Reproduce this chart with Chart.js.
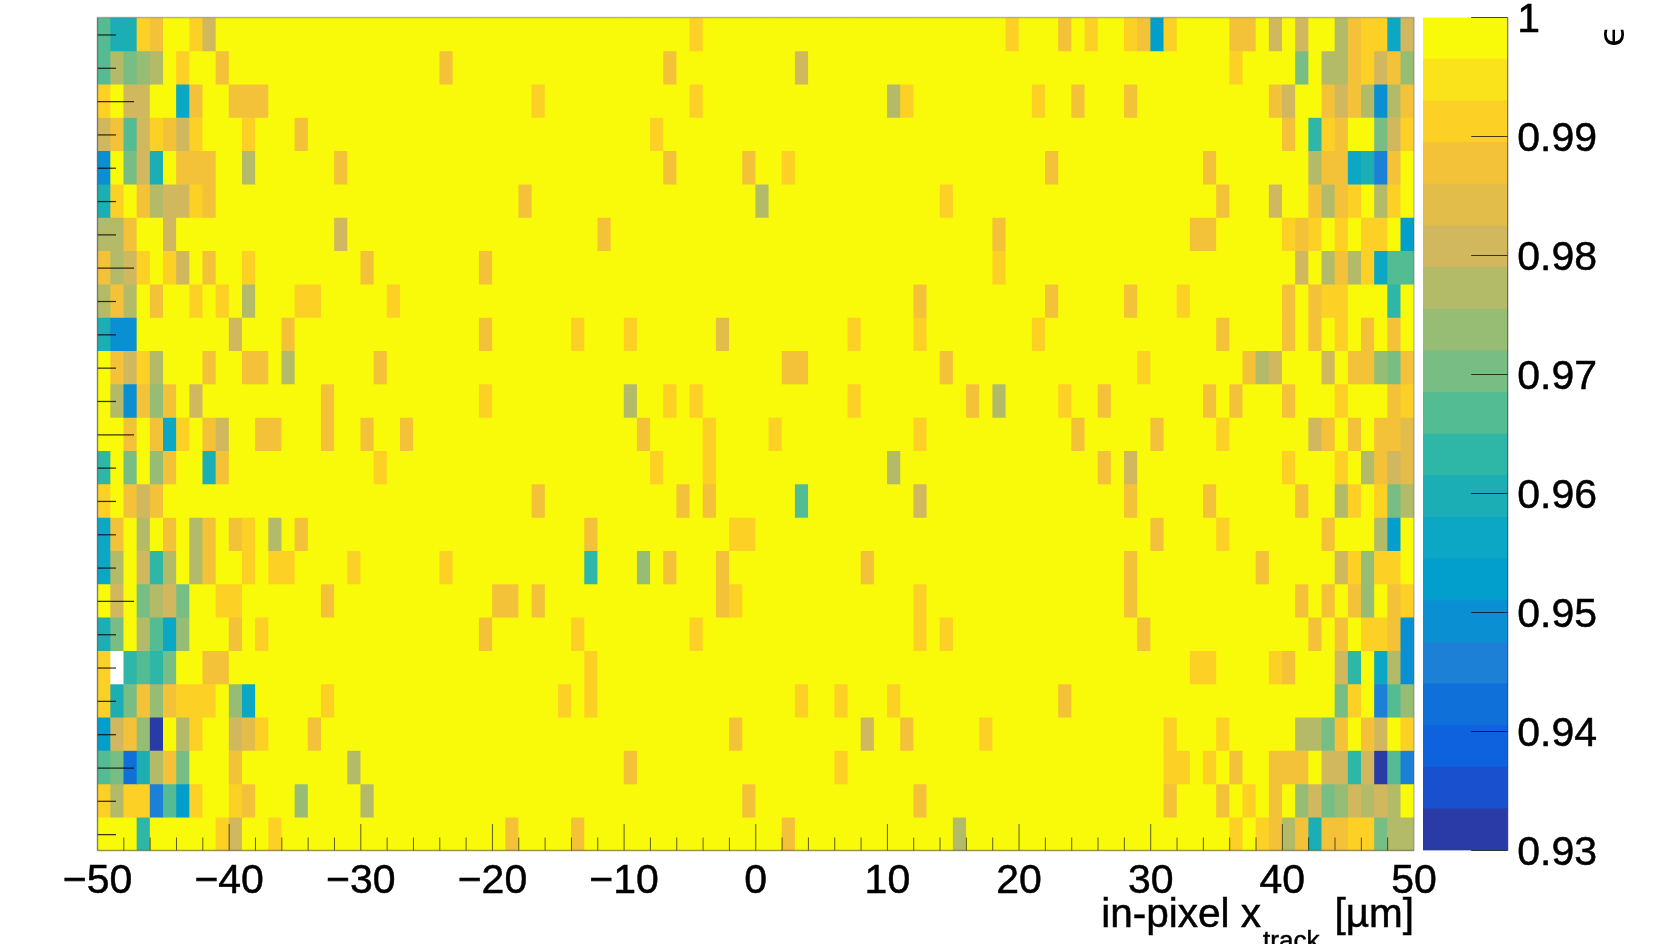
<!DOCTYPE html>
<html>
<head>
<meta charset="utf-8">
<title>in-pixel efficiency map</title>
<script src="https://cdn.jsdelivr.net/npm/chart.js@4"></script>
<style>
html,body{margin:0;padding:0;background:#fff;width:1659px;height:944px;overflow:hidden}
canvas{position:absolute;top:0;filter:blur(.55px)}
#map{left:0}
#bar{left:1416px}
</style>
</head>
<body>
<canvas id="map" width="1659" height="944"></canvas>
<canvas id="bar" width="243" height="944"></canvas>
<script>
// Axis and tick values
const xMajorTicks = [-50,-40,-30,-20,-10,0,10,20,30,40,50];
const xMinorTicks = [-48,-46,-44,-42,-38,-36,-34,-32,-28,-26,-24,-22,-18,-16,-14,-12,-8,-6,-4,-2,2,4,6,8,12,14,16,18,22,24,26,28,32,34,36,38,42,44,46,48];
const yMajorTicks = [2.5,7.5,12.5,17.5,22.5];
const yMinorTicks = [0.5,1.5,3.5,4.5,5.5,6.5,8.5,9.5,10.5,11.5,13.5,14.5,15.5,16.5,18.5,19.5,20.5,21.5,23.5,24.5];
const zTicks = [0.93,0.94,0.95,0.96,0.97,0.98,0.99,1];
const zMin = 0.93, zMax = 1;
const fullEfficiency = 1;
const belowRange = 0.925;
const paletteBottomUp = ['#2A3BA8','#1950CE','#0F62DD','#0F70D9','#1C80D7','#0B8FD3','#029FCD','#0BA7C5','#1CAEB5','#2EB7A6','#54BC92','#78BE84','#97BC74','#B4BB68','#D1B85E','#E2BD4A','#F4C238','#FDD026','#FAE31A','#F9F90A'];

// Efficiency below 100%, per row (top row first): [bin number 0-99, efficiency]
const row00=[[0,.967],[1,.96],[2,.96],[3,.991],[4,.988],[7,.991],[8,.981],[45,.991],[69,.991],[73,.988],[75,.991],[78,.991],[79,.988],[80,.953],[81,.991],[86,.988],[87,.988],[89,.981],[91,.981],[94,.977],[95,.988],[96,.991],[97,.991],[98,.956],[99,.981]];
const row01=[[0,.967],[1,.977],[2,.97],[3,.974],[4,.977],[6,.991],[9,.988],[26,.988],[43,.988],[53,.981],[86,.991],[91,.97],[93,.977],[94,.977],[95,.988],[96,.991],[97,.981],[98,.988],[99,.974]];
const row02=[[0,.991],[2,.981],[3,.981],[6,.956],[7,.988],[10,.988],[11,.988],[12,.988],[33,.991],[45,.991],[60,.977],[61,.991],[71,.991],[74,.988],[78,.988],[89,.988],[90,.981],[93,.988],[94,.981],[95,.988],[96,.977],[97,.949],[98,.977],[99,.988]];
const row03=[[0,.981],[1,.988],[2,.967],[3,.981],[4,.991],[5,.988],[6,.981],[7,.991],[11,.991],[15,.988],[42,.991],[90,.988],[92,.963],[93,.991],[94,.988],[97,.97],[98,.981],[99,.991]];
const row04=[[0,.949],[2,.97],[3,.981],[4,.96],[6,.988],[7,.988],[8,.988],[11,.977],[18,.988],[43,.988],[49,.988],[52,.991],[72,.988],[84,.988],[92,.977],[93,.988],[94,.988],[95,.956],[96,.96],[97,.946],[98,.988]];
const row05=[[0,.96],[1,.991],[3,.988],[4,.977],[5,.981],[6,.981],[7,.991],[8,.988],[32,.988],[50,.977],[64,.991],[85,.988],[89,.981],[92,.988],[93,.977],[94,.988],[95,.991],[97,.977],[98,.991]];
const row06=[[0,.977],[1,.977],[2,.988],[5,.981],[18,.981],[38,.988],[68,.988],[83,.988],[84,.988],[90,.991],[91,.988],[92,.991],[94,.991],[96,.991],[97,.991],[99,.953]];
const row07=[[0,.988],[1,.977],[2,.981],[3,.991],[5,.991],[6,.981],[8,.988],[11,.991],[20,.988],[29,.988],[68,.991],[91,.981],[93,.977],[94,.988],[95,.977],[96,.991],[97,.956],[98,.967],[99,.967]];
const row08=[[0,.977],[1,.988],[2,.977],[4,.988],[7,.991],[9,.991],[11,.977],[15,.991],[16,.991],[22,.991],[62,.988],[72,.988],[78,.988],[82,.991],[90,.988],[92,.988],[93,.991],[94,.991],[98,.963]];
const row09=[[0,.96],[1,.949],[2,.949],[10,.981],[14,.988],[29,.988],[36,.991],[40,.991],[47,.984],[57,.991],[62,.991],[71,.991],[85,.988],[90,.988],[92,.988],[94,.991],[96,.988],[98,.988]];
const row10=[[1,.988],[2,.981],[3,.991],[4,.977],[8,.988],[11,.988],[12,.988],[14,.977],[21,.988],[52,.988],[53,.988],[64,.988],[79,.991],[87,.988],[88,.977],[89,.981],[93,.981],[95,.988],[96,.988],[97,.974],[98,.97],[99,.988]];
const row11=[[1,.977],[2,.949],[3,.988],[4,.974],[5,.988],[7,.981],[17,.988],[29,.991],[40,.977],[43,.991],[45,.991],[57,.991],[66,.988],[68,.977],[73,.991],[76,.988],[84,.988],[86,.988],[90,.988],[94,.991],[98,.988],[99,.991]];
const row12=[[2,.988],[4,.988],[5,.956],[6,.991],[8,.988],[9,.981],[12,.988],[13,.988],[17,.988],[20,.988],[23,.988],[41,.988],[46,.991],[51,.991],[62,.991],[74,.988],[80,.988],[85,.991],[92,.981],[93,.988],[95,.988],[97,.988],[98,.988],[99,.984]];
const row13=[[0,.963],[2,.97],[4,.974],[5,.988],[8,.96],[9,.988],[21,.991],[42,.991],[46,.991],[60,.977],[76,.988],[78,.981],[90,.991],[94,.991],[96,.977],[97,.988],[98,.981],[99,.984]];
const row14=[[0,.991],[2,.988],[3,.981],[4,.988],[33,.988],[44,.988],[46,.988],[53,.967],[62,.981],[78,.988],[84,.988],[91,.988],[94,.977],[95,.991],[97,.991],[98,.97],[99,.977]];
const row15=[[0,.956],[1,.988],[3,.977],[5,.988],[7,.977],[8,.988],[10,.988],[11,.991],[13,.977],[15,.988],[37,.988],[48,.991],[49,.991],[80,.988],[85,.991],[93,.988],[97,.977],[98,.953]];
const row16=[[0,.956],[1,.977],[3,.981],[4,.963],[5,.977],[7,.977],[8,.988],[11,.991],[13,.991],[14,.991],[19,.991],[26,.991],[37,.963],[41,.974],[43,.988],[47,.988],[58,.988],[78,.988],[88,.988],[94,.981],[95,.991],[96,.974],[97,.991],[98,.991]];
const row17=[[1,.981],[3,.97],[4,.977],[5,.981],[6,.97],[9,.991],[10,.991],[17,.988],[30,.988],[31,.988],[33,.988],[47,.988],[48,.991],[62,.991],[78,.988],[91,.988],[93,.988],[95,.988],[96,.974],[98,.988],[99,.991]];
const row18=[[0,.96],[1,.97],[3,.977],[4,.967],[5,.956],[6,.974],[10,.988],[12,.991],[29,.988],[36,.991],[45,.991],[62,.991],[64,.991],[79,.988],[92,.988],[94,.988],[96,.991],[97,.991],[98,.988],[99,.949]];
const row19=[[0,.991],[1,belowRange],[2,.963],[3,.967],[4,.963],[5,.97],[8,.988],[9,.988],[37,.991],[83,.991],[84,.991],[89,.991],[90,.988],[94,.981],[95,.963],[97,.956],[98,.977],[99,.949]];
const row20=[[0,.991],[1,.96],[2,.97],[3,.988],[4,.974],[5,.988],[6,.991],[7,.991],[8,.991],[10,.974],[11,.956],[17,.991],[35,.991],[37,.991],[53,.991],[56,.991],[60,.991],[73,.988],[94,.97],[95,.991],[97,.946],[98,.967],[99,.974]];
const row21=[[0,.953],[1,.981],[2,.988],[3,.974],[4,.932],[6,.977],[7,.991],[10,.981],[11,.984],[12,.991],[16,.988],[48,.988],[58,.981],[61,.988],[67,.991],[81,.991],[85,.991],[91,.977],[92,.977],[93,.97],[94,.988],[96,.988],[97,.981],[99,.991]];
const row22=[[0,.967],[1,.97],[2,.942],[3,.96],[4,.977],[5,.988],[6,.97],[10,.988],[19,.977],[40,.988],[56,.991],[81,.991],[82,.991],[84,.991],[86,.988],[89,.988],[90,.988],[91,.988],[93,.981],[94,.981],[95,.963],[96,.981],[97,.932],[98,.967],[99,.946]];
const row23=[[0,.991],[1,.977],[2,.991],[3,.991],[4,.946],[5,.967],[6,.953],[7,.991],[10,.991],[11,.988],[15,.974],[20,.977],[49,.988],[62,.988],[81,.988],[85,.988],[87,.991],[89,.988],[91,.974],[92,.981],[93,.97],[94,.974],[95,.981],[96,.977],[97,.981],[98,.977]];
const row24=[[3,.963],[9,.991],[10,.981],[13,.991],[31,.988],[36,.988],[52,.988],[65,.977],[86,.991],[88,.991],[89,.988],[90,.977],[91,.988],[92,.96],[93,.988],[94,.988],[95,.991],[96,.991],[97,.97],[98,.977],[99,.977]];
const rows=[row00,row01,row02,row03,row04,row05,row06,row07,row08,row09,row10,row11,row12,row13,row14,row15,row16,row17,row18,row19,row20,row21,row22,row23,row24];

const FONT = '"Liberation Sans", Arial, Helvetica, sans-serif';
const levelWidth = (zMax - zMin) / paletteBottomUp.length;
function colourOf(v){
  if (v < zMin) return '#ffffff';
  const i = Math.min(paletteBottomUp.length - 1, Math.floor((v - zMin) / levelWidth));
  return paletteBottomUp[i];
}
const datasets = rows.map((row, r) => {
  const lookup = new Map(row);
  const data = [];
  for (let b = 0; b < 100; b++) {
    data.push({x: -49.5 + b, y: [r, r + 1], eps: lookup.has(b) ? lookup.get(b) : fullEfficiency});
  }
  return {
    label: 'row ' + r,
    data,
    grouped: false,
    barPercentage: 1,
    categoryPercentage: 1,
    borderWidth: 0,
    backgroundColor: c => colourOf(c.raw.eps)
  };
});

function heavyText(g, s, x, y){
  g.lineWidth = 0.5;
  g.strokeStyle = '#000';
  g.strokeText(s, x, y);
  g.fillText(s, x, y);
}

const mapFurniture = {
  id: 'mapFurniture',
  beforeDatasetsDraw(chart){
    const a = chart.chartArea, g = chart.ctx;
    g.save();
    g.fillStyle = paletteBottomUp[paletteBottomUp.length - 1];
    g.fillRect(a.left, a.top, a.right - a.left, a.bottom - a.top);
    g.restore();
  },
  afterDatasetsDraw(chart){
    const a = chart.chartArea, g = chart.ctx, X = chart.scales.x, Y = chart.scales.y;
    g.save();
    g.strokeStyle = 'rgba(0,0,0,.62)';
    g.lineWidth = 1;
    const vtick = (list, len) => list.forEach(v => {
      const p = X.getPixelForValue(v);
      g.beginPath(); g.moveTo(p, a.bottom); g.lineTo(p, a.bottom - len); g.stroke();
    });
    const htick = (list, len) => list.forEach(v => {
      const p = Y.getPixelForValue(v) + 0.8;
      g.beginPath(); g.moveTo(a.left, p); g.lineTo(a.left + len, p); g.stroke();
    });
    vtick(xMinorTicks, 13);
    vtick(xMajorTicks.slice(1, -1), 26.5);
    g.strokeStyle = 'rgba(0,0,0,.78)';
    g.lineWidth = 1.25;
    htick(yMinorTicks, 18.5);
    htick(yMajorTicks, 36.5);
    // frame
    g.lineWidth = 1.4;
    g.strokeStyle = 'rgba(70,70,70,.55)';
    g.beginPath(); g.moveTo(a.left, a.bottom); g.lineTo(a.right, a.bottom); g.stroke();
    g.strokeStyle = 'rgba(70,70,70,.65)';
    g.beginPath(); g.moveTo(a.left, a.top); g.lineTo(a.left, a.bottom); g.stroke();
    g.strokeStyle = 'rgba(90,90,90,.38)';
    g.beginPath(); g.moveTo(a.left, a.top); g.lineTo(a.right, a.top); g.lineTo(a.right, a.bottom); g.stroke();
    // axis title with subscript
    g.fillStyle = '#000';
    g.textBaseline = 'alphabetic';
    g.textAlign = 'right';
    const base = 926.5;
    g.font = '40.5px ' + FONT;
    heavyText(g, '[µm]', a.right, base);
    const trackEnd = a.right - g.measureText('[µm]').width - 15;
    g.font = '26px ' + FONT;
    heavyText(g, 'track', trackEnd, base + 22);
    const xEnd = trackEnd - g.measureText('track').width - 2;
    g.font = '40.5px ' + FONT;
    heavyText(g, 'in-pixel x', xEnd, base);
    g.restore();
  }
};

new Chart(document.getElementById('map'), {
  type: 'bar',
  data: {datasets},
  plugins: [mapFurniture],
  options: {
    responsive: false,
    animation: false,
    events: [],
    devicePixelRatio: 1,
    layout: {padding: {top: 17.5, right: 245, bottom: 0, left: 0}},
    plugins: {legend: {display: false}, tooltip: {enabled: false}},
    scales: {
      x: {
        type: 'linear', min: -50, max: 50, offset: false,
        grid: {display: false, drawTicks: false, offset: false},
        border: {display: false},
        afterBuildTicks: s => { s.ticks = xMajorTicks.map(value => ({value})); },
        afterFit: s => { s.height = 93.5; },
        ticks: {
          autoSkip: false, maxRotation: 0, padding: 10.5, color: '#000',
          textStrokeWidth: 0.5, textStrokeColor: '#000',
          font: {family: FONT, size: 41, lineHeight: 1},
          callback: v => String(v).replace('-', '\u2212')
        }
      },
      y: {
        type: 'linear', min: 0, max: 25, reverse: true,
        grid: {display: false, drawTicks: false},
        border: {display: false},
        ticks: {display: false},
        afterFit: s => { s.width = 97.5; s.paddingTop = 0; s.paddingBottom = 0; }
      }
    }
  }
});

// colour scale
const barFurniture = {
  id: 'barFurniture',
  afterDatasetsDraw(chart){
    const a = chart.chartArea, g = chart.ctx, Y = chart.scales.y;
    g.save();
    g.strokeStyle = 'rgba(0,0,0,.72)';
    g.lineWidth = 1;
    zTicks.forEach(v => {
      const p = Y.getPixelForValue(v);
      g.beginPath(); g.moveTo(a.right, p); g.lineTo(a.right - 36.5, p); g.stroke();
    });
    g.strokeStyle = 'rgba(30,30,30,.6)';
    g.lineWidth = 1.2;
    g.beginPath(); g.moveTo(a.right, a.top); g.lineTo(a.right, a.bottom); g.stroke();
    g.fillStyle = '#000';
    g.font = '36px "DejaVu Sans", ' + FONT;
    g.textAlign = 'center';
    g.textBaseline = 'alphabetic';
    g.translate(1624 - 1416, 36);
    g.rotate(-Math.PI / 2);
    g.fillText('\u03f5', 0, 0);
    g.restore();
  }
};
new Chart(document.getElementById('bar'), {
  type: 'bar',
  data: {
    labels: ['\u03f5'],
    datasets: paletteBottomUp.map((backgroundColor, i) => ({
      data: [[zMin + i * levelWidth, zMin + (i + 1) * levelWidth]],
      backgroundColor, grouped: false, barPercentage: 1, categoryPercentage: 1, borderWidth: 0
    }))
  },
  plugins: [barFurniture],
  options: {
    responsive: false,
    animation: false,
    events: [],
    devicePixelRatio: 1,
    layout: {padding: {top: 17.5, right: 0, bottom: 93.5, left: 7}},
    plugins: {legend: {display: false}, tooltip: {enabled: false}},
    scales: {
      x: {display: false},
      y: {
        position: 'right', min: zMin, max: zMax,
        grid: {display: false, drawTicks: false},
        border: {display: false},
        afterBuildTicks: s => { s.ticks = zTicks.map(value => ({value})); },
        afterFit: s => { s.width = 151.3; s.paddingTop = 0; s.paddingBottom = 0; },
        ticks: {
          autoSkip: false, padding: 9.5, labelOffset: 3.5, color: '#000',
          textStrokeWidth: 0.5, textStrokeColor: '#000',
          font: {family: FONT, size: 41, lineHeight: 1},
          callback: v => String(v)
        }
      }
    }
  }
});
</script>
</body>
</html>
